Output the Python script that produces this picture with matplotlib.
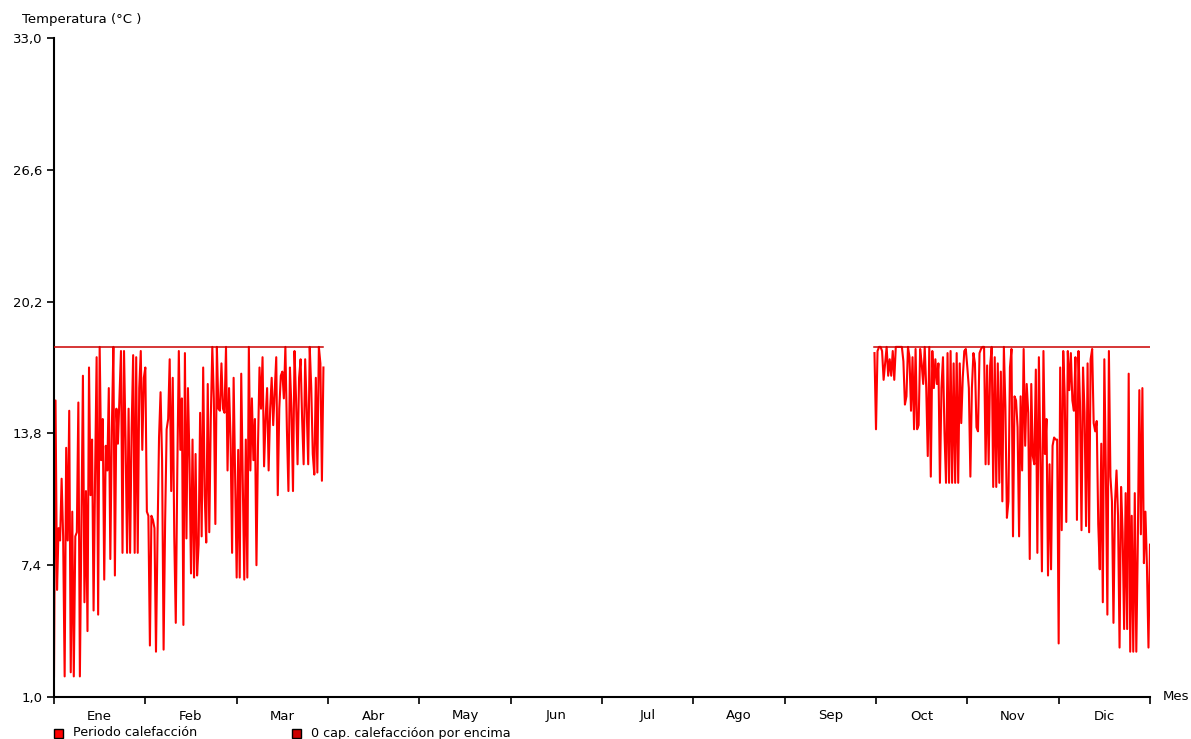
import numpy as np
import matplotlib
matplotlib.use('Agg')
import matplotlib.pyplot as plt
from matplotlib.patches import Rectangle

plt.rcParams['font.family'] = ['DejaVu Sans']

# Meses (eje x en unidades de mes, 0 = 1 de enero)
meses = ['Ene', 'Feb', 'Mar', 'Abr', 'May', 'Jun',
         'Jul', 'Ago', 'Sep', 'Oct', 'Nov', 'Dic']
paso = 1 / 60  # dos muestras por día aprox.

# Temperatura interior durante el periodo de calefacción (enero - marzo)
temp_ene_mar = [
    2.0, 15.4, 6.2, 9.2, 8.6, 11.6, 8.8, 2.0, 13.1, 8.6, 14.9, 2.2, 10.0, 2.0, 8.8,
    9.0, 15.3, 2.0, 9.5, 16.6, 5.6, 11.0, 4.2, 17.0, 10.8, 13.5, 5.2, 11.8, 17.5, 5.0,
    18.0, 12.5, 14.5, 6.7, 13.2, 12.0, 16.0, 7.7, 14.0, 18.0, 6.9, 15.0, 13.3, 15.5, 17.8,
    8.0, 17.8, 13.5, 8.0, 15.0, 8.0, 14.0, 17.6, 8.0, 17.5, 8.0, 16.0, 17.8, 13.0, 16.5,
    17.0, 10.0, 9.8, 3.5, 9.8, 9.6, 9.2, 3.2, 8.8, 13.6, 15.8, 12.5, 3.3, 9.5, 14.0,
    14.5, 17.4, 11.0, 16.5, 8.8, 4.6, 12.0, 17.8, 13.0, 15.5, 4.5, 17.7, 8.7, 16.0, 12.5,
    7.0, 13.5, 6.8, 12.8, 6.9, 8.4, 14.8, 8.8, 17.0, 10.8, 8.5, 16.2, 9.0, 14.5, 18.0,
    15.5, 9.4, 18.0, 15.0, 14.9, 17.2, 15.0, 14.8, 18.0, 12.0, 16.0, 13.5, 8.0, 16.5, 11.5,
    6.8, 13.0, 6.8, 16.7, 11.5, 6.7, 13.5, 6.8, 18.0, 12.0, 15.5, 12.5, 14.5, 7.4, 13.2,
    17.0, 15.0, 17.5, 12.2, 14.5, 16.0, 12.0, 15.0, 16.5, 14.2, 15.8, 17.5, 10.8, 15.0, 16.6,
    16.8, 15.5, 18.0, 14.0, 11.0, 17.0, 15.0, 11.0, 17.8, 15.5, 12.3, 16.5, 17.4, 14.5, 12.3,
    17.4, 15.0, 12.3, 18.0, 16.0, 12.8, 11.8, 16.5, 11.9, 18.0, 17.2, 11.5, 17.0, np.nan, np.nan,
]

# Temperatura interior durante el periodo de calefacción (octubre - diciembre)
temp_oct_dic = [
    17.7, 14.0, 17.8, 18.0, 18.0, 17.8, 16.4, 17.2, 18.0, 16.6, 17.4, 16.6, 17.8, 16.4, 18.0,
    18.0, 18.0, 18.0, 18.0, 17.3, 15.2, 15.6, 18.0, 17.5, 14.9, 17.5, 14.0, 17.9, 14.0, 14.2,
    17.9, 17.2, 16.2, 18.0, 16.0, 12.7, 18.0, 11.7, 17.8, 16.0, 17.4, 16.2, 17.2, 11.4, 16.0,
    17.5, 13.8, 11.4, 17.7, 11.4, 17.8, 11.4, 17.2, 11.4, 17.7, 11.4, 17.2, 14.3, 16.5, 17.8,
    17.9, 17.0, 16.0, 11.7, 16.0, 17.7, 17.2, 14.1, 13.9, 17.7, 17.9, 18.0, 18.0, 12.3, 17.1,
    12.3, 17.1, 18.0, 11.2, 17.5, 11.2, 17.2, 11.4, 16.8, 10.5, 18.0, 15.1, 9.7, 10.5, 17.0,
    17.9, 8.8, 15.6, 15.4, 14.1, 8.8, 15.6, 12.0, 17.9, 13.2, 16.2, 14.8, 7.7, 16.2, 12.7,
    12.3, 16.9, 8.0, 17.5, 12.7, 7.1, 17.8, 12.8, 14.5, 6.9, 12.3, 7.2, 13.2, 13.6, 13.5,
    13.5, 3.6, 17.0, 9.1, 17.8, 15.6, 9.5, 17.8, 15.9, 17.7, 15.4, 14.9, 17.5, 9.6, 17.8,
    15.3, 9.1, 17.0, 14.8, 9.3, 17.2, 9.0, 17.4, 17.9, 14.3, 13.9, 14.4, 9.4, 7.2, 13.3,
    5.6, 17.4, 11.9, 5.0, 17.8, 11.7, 10.5, 4.6, 10.4, 12.0, 9.8, 3.4, 11.2, 9.0, 4.3,
    10.9, 4.3, 16.7, 3.2, 9.8, 3.2, 10.9, 3.2, 8.5, 15.9, 8.9, 16.0, 7.5, 10.0, 7.3,
    3.4, 8.4,
]

inicio_ene = 0.0
inicio_oct = 9.0 - paso
consigna = 18.0  # temperatura de consigna de calefacción

x1 = inicio_ene + np.arange(len(temp_ene_mar)) * paso
x2 = inicio_oct + np.arange(len(temp_oct_dic)) * paso
t1 = np.array(temp_ene_mar)
t2 = np.array(temp_oct_dic)

fig = plt.figure(figsize=(11.91, 7.39), dpi=100)
ax = fig.add_axes([54 / 1191, 1 - 697 / 739, (1150 - 54) / 1191, (697 - 38) / 739])

rojo = '#ff0000'
rojo_osc = '#cc0000'

# consigna solo durante el periodo de calefacción
for x, t in [(x1, t1), (x2, t2)]:
    valido = ~np.isnan(t)
    ax.plot(x[valido], np.full(valido.sum(), consigna), color=rojo_osc, lw=1.1, zorder=3)
    ax.plot(x, t, color=rojo, lw=1.5, zorder=2)

ax.set_xlim(0, 12)
ax.set_ylim(1, 33)

yt = np.linspace(1, 33, 6)
ax.set_yticks(yt)
ax.set_yticklabels([f'{v:.1f}'.replace('.', ',') for v in yt])

ax.set_xticks(np.arange(13))
ax.set_xticklabels([])
ax.set_xticks(np.arange(12) + 0.5, minor=True)
ax.set_xticklabels(meses, minor=True)

ax.tick_params(axis='both', which='major', direction='out', length=5, width=1.2,
               labelsize=9.5, colors='black')
ax.tick_params(axis='x', which='minor', length=0, pad=9, labelsize=9.5)

for lado in ['top', 'right']:
    ax.spines[lado].set_visible(False)
for lado in ['left', 'bottom']:
    ax.spines[lado].set_linewidth(1.5)

fig.text(22 / 1191, 1 - 20 / 739, 'Temperatura (°C )', fontsize=9.5, ha='left', va='center')
fig.text(1163 / 1191, 1 - 697 / 739, 'Mes', fontsize=9.5, ha='left', va='center')

# leyenda inferior
leyenda = [('Periodo calefacción', rojo, 54), ('0 cap. calefaccióon por encima', rojo_osc, 292)]
for texto, color, px in leyenda:
    fig.add_artist(Rectangle((px / 1191, 1 - 738 / 739), 9 / 1191, 9 / 739,
                             transform=fig.transFigure, facecolor=color,
                             edgecolor='black', lw=1))
    fig.text((px + 19) / 1191, 1 - 733 / 739, texto, fontsize=9.2, ha='left', va='center')

fig.savefig('out.png', dpi=100)
